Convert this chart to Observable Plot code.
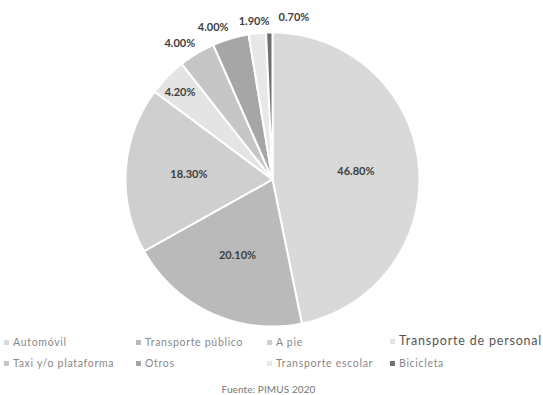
<!DOCTYPE html>
<html><head><meta charset="utf-8">
<script src="https://cdn.jsdelivr.net/npm/d3@7"></script>
<script src="https://cdn.jsdelivr.net/npm/@observablehq/plot@0.6"></script>
<style>
body{margin:0;background:#fff;font-family:Lato,"Open Sans",sans-serif;}
#wrap{width:543px;position:relative;}
.legend{position:relative;height:44px;font-size:10.5px;letter-spacing:0.7px;color:#888;}
.item{position:absolute;white-space:nowrap;line-height:12px;}
.item.big{font-size:12.5px;letter-spacing:0.8px;color:#555;}
.sw{display:inline-block;width:5px;height:5px;margin-right:4px;vertical-align:1px;}
.cap{text-align:center;font-size:10px;letter-spacing:0.1px;color:#777;margin-top:7px;padding-right:6px;}
</style></head>
<body><div id="wrap"></div>
<script>
const categories = ["Automóvil","Transporte público","A pie","Transporte de personal","Taxi y/o plataforma","Otros","Transporte escolar","Bicicleta"];
const values = [46.8, 20.1, 18.3, 4.2, 4.0, 4.0, 1.9, 0.7];
const colors = ["#d9d9d9","#bababa","#cfcfcf","#e4e4e4","#c6c6c6","#a6a6a6","#e8e8e8","#707070"];
const labels = ["46.80%","20.10%","18.30%","4.20%","4.00%","4.00%","1.90%","0.70%"];
const source = "Fuente: PIMUS 2020";

const data = categories.map((c,i)=>({name:c, value:values[i], label:labels[i]}));
const arcs = d3.pie().value(d=>d.value).sort(null)(data);

// polygon points per slice (angle measured clockwise from 12 o'clock)
const pts = [];
arcs.forEach(a=>{
  const n = Math.max(2, Math.ceil((a.endAngle-a.startAngle)/0.01));
  pts.push({name:a.data.name, x:0, y:0});
  for(let k=0;k<=n;k++){
    const t = a.startAngle + (a.endAngle-a.startAngle)*k/n;
    pts.push({name:a.data.name, x:Math.sin(t), y:Math.cos(t)});
  }
  pts.push({name:a.data.name, x:0, y:0});
});

// label layout radius (inside for large slices, outside for small ones)
const labelR = [0.57,0.57,0.57,0.85,1.08,1.08,1.08,1.1];
const labelDx = [0,0,0,-3,-11,-14,-2,25];
const lab = arcs.map((a,i)=>{
  const m=(a.startAngle+a.endAngle)/2;
  return {label:a.data.label, x:Math.sin(m)*labelR[i], y:Math.cos(m)*labelR[i], i};
});

const chart = Plot.plot({
  width:543, height:332,
  margin:0,
  x:{domain:[-1,1], range:[125,419], axis:null},
  y:{domain:[-1,1], range:[326,32], axis:null},
  color:{domain:categories, range:colors},
  style:{fontFamily:"Lato, 'Open Sans', sans-serif", background:"#fff"},
  marks:[
    Plot.line(pts,{x:"x", y:"y", z:"name", fill:"name", stroke:"#fff", strokeWidth:2, strokeLinejoin:"miter", curve:"linear"}),
    ...lab.map(d=>Plot.text([d],{x:"x", y:"y", text:"label", dx:labelDx[d.i], fontSize:11, fontWeight:"bold", fill:"#3e3e3e"}))
  ]
});
const wrap=document.getElementById("wrap");
wrap.appendChild(chart);

const leg=document.createElement("div"); leg.className="legend";
const colX=[4,136,267,390];
categories.forEach((c,i)=>{
  const it=document.createElement("div"); it.className="item"+(i===3?" big":"");
  it.style.left=colX[i%4]+"px"; it.style.top=(i<4?(i===3?3:4):25)+"px";
  it.innerHTML=`<span class="sw" style="background:${colors[i]}"></span>${c}`;
  leg.appendChild(it);
});
wrap.appendChild(leg);
const cap=document.createElement("div"); cap.className="cap"; cap.textContent=source;
wrap.appendChild(cap);
</script></body></html>
